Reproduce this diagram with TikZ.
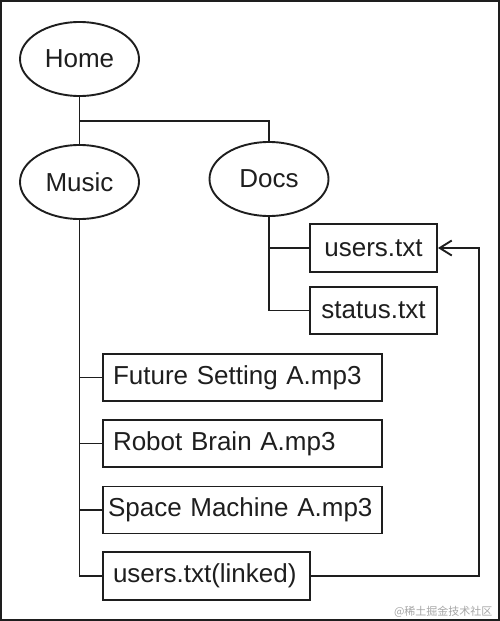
\documentclass[tikz,border=0pt]{standalone}
\usepackage{fontspec}
\setmainfont{Liberation Sans}
\newfontfamily\cjk{Noto Sans CJK SC}
\usetikzlibrary{shapes.geometric,arrows.meta}
\definecolor{ink}{HTML}{1E1E1E}
\begin{document}
\begin{tikzpicture}[x=1pt,y=-1pt,
  every node/.style={font=\fontsize{26}{30}\selectfont, text=ink},
  ell/.style={draw=ink, ellipse, line width=1.9pt, minimum width=119pt, minimum height=74pt, inner sep=0pt},
  filebox/.style={draw=ink, rectangle, line width=1.9pt, inner sep=0pt},
  leftbox/.style={filebox, inner xsep=10pt, align=left, minimum height=47pt},
  link/.style={draw=ink, line width=1.9pt}]
\useasboundingbox (0,0) rectangle (500,621);
\draw[ink, line width=2.2pt] (1,1) rectangle (499,620);
% ellipses
\node[ell] (home) at (79.5,59) {Home};
\node[ell] (music) at (79.5,182) {Music};
\node[ell] (docs) at (269,179) {Docs};
% docs files
\node[filebox, minimum width=127pt, minimum height=48pt] (users) at (373.5,248) {users.txt};
\node[filebox, minimum width=127pt, minimum height=47pt] (status) at (373.5,310.5) {status.txt};
% music files
\node[leftbox, text width=259pt] (fut) at (242.5,377.5) {Future Setting A.mp3};
\node[leftbox, text width=259pt] (robot) at (242.5,443.5) {Robot Brain A.mp3};
\node[leftbox, inner xsep=5pt, text width=269pt] (space) at (242.5,510) {Space Machine A.mp3};
\node[leftbox, text width=187pt, minimum height=48pt] (linked) at (206.5,576) {users.txt(linked)};
% connectors
\coordinate (j) at (79.5,121);
\coordinate (r) at (479,0);
\draw[link] (home.south) -- (music.north);
\draw[link] (j) -| (docs.north);
\draw[link] (docs.south) |- (status.west);
\draw[link] (docs.south |- users.west) -- (users.west);
\draw[link] (music.south) |- (linked.west);
\draw[link] (music.south |- fut.west) -- (fut.west);
\draw[link] (music.south |- robot.west) -- (robot.west);
\draw[link] (music.south |- space.west) -- (space.west);
\draw[link, -{Straight Barb[length=12pt,width=15pt,line width=1.9pt]}] (linked.east) -- (linked.east -| r) |- (users.east);
% watermark
\node[font=\cjk\fontsize{11}{13}\selectfont, text=black!35, anchor=east] (wm) at (496,612) {@稀土掘金技术社区};
\end{tikzpicture}
\end{document}
